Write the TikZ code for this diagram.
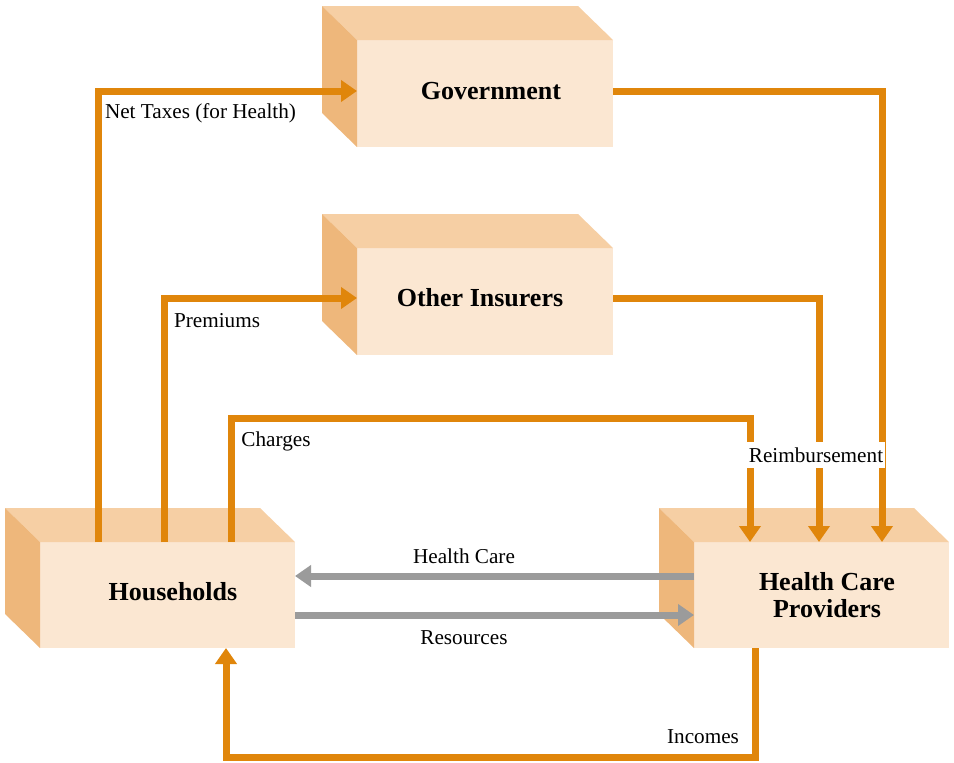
\documentclass[tikz,border=0pt]{standalone}
\usepackage{fontspec}
\setmainfont{Liberation Serif}
\usetikzlibrary{arrows.meta}

\definecolor{facefront}{HTML}{FBE7D2}
\definecolor{facetop}{HTML}{F6CFA4}
\definecolor{faceside}{HTML}{EEB77B}
\definecolor{flowor}{HTML}{E0860B}
\definecolor{flowgray}{HTML}{9B9B9B}

\tikzset{
  box/.style={fill=facefront, minimum width=256pt, minimum height=107pt,
    inner sep=0pt, outer sep=0pt},
  boxtext/.style={align=center, inner sep=0pt,
    font=\fontsize{26}{26.5}\selectfont\bfseries},
  flow/.style={draw=flowor, line width=7pt,
    -{Triangle[width=21pt,length=16pt]}},
  service/.style={draw=flowgray, line width=7pt,
    -{Triangle[width=21pt,length=16pt]}},
  lbl/.style={inner sep=2pt, font=\fontsize{21.2}{24}\selectfont},
}

% side and top faces of a cuboid whose front face is node #1
\newcommand\cubefaces[1]{%
  \fill[facetop] (#1.north west) -- ([shift={(-35,-34)}]#1.north west)
    -- ([shift={(-35,-34)}]#1.north east) -- (#1.north east) -- cycle;
  \fill[faceside] (#1.north west) -- ([shift={(-35,-34)}]#1.north west)
    -- ([shift={(-35,-34)}]#1.south west) -- (#1.south west) -- cycle;
}

\begin{document}
\begin{tikzpicture}[x=1pt, y=-1pt]
  \useasboundingbox (0,0) rectangle (954,763);

  % sectors
  \node[box] (gov) at (485,93.5) {};
  \node[box] (ins) at (485,301.5) {};
  \node[box, minimum width=255pt, minimum height=106pt] (hh) at (167.5,595) {};
  \node[box, minimum width=255pt, minimum height=106pt] (hcp) at (821.5,595) {};
  \cubefaces{gov}
  \cubefaces{ins}
  \cubefaces{hh}
  \cubefaces{hcp}
  \node[boxtext] (govname) at (491,91) {Government};
  \node[boxtext] (insname) at (480,298) {Other Insurers};
  \node[boxtext] (hhname) at (173,592) {Households};
  \node[boxtext] (hcpname) at (827,595) {Health Care\\Providers};

  % money flows
  \draw[flow] ([xshift=58pt]hh.north west) |- ([yshift=2.5pt]gov.west);
  \draw[flow] ([xshift=124pt]hh.north west) |- ([yshift=3.5pt]ins.west);
  \draw[flow] ([xshift=191pt]hh.north west) -- ++(0,-124)
    -| ([xshift=56pt]hcp.north west);
  \draw[flow] ([yshift=3.5pt]ins.east) -| ([xshift=125pt]hcp.north west);
  \draw[flow] ([yshift=2.5pt]gov.east) -| ([xshift=188pt]hcp.north west);
  \draw[flow] ([xshift=61pt]hcp.south west) -- ++(0,109)
    -| ([xshift=186pt]hh.south west);

  % real flows
  \draw[service] ([yshift=19pt]hcp.west) -- ([yshift=19pt]hh.east);
  \draw[service] ([yshift=-20pt]hh.east) -- ([yshift=-20pt]hcp.west);

  % flow labels
  \node[lbl] (taxes) at (200.5,113) {Net Taxes (for Health)};
  \node[lbl] (prem) at (217,321) {Premiums};
  \node[lbl] (chg) at (276,441) {Charges};
  \node[lbl, fill=white, inner ysep=6pt] (reimb) at (816,455) {Reimbursement};
  \node[lbl] (care) at (464,556) {Health Care};
  \node[lbl] (res) at (464,638) {Resources};
  \node[lbl] (inc) at (703,737) {Incomes};
\end{tikzpicture}
\end{document}
